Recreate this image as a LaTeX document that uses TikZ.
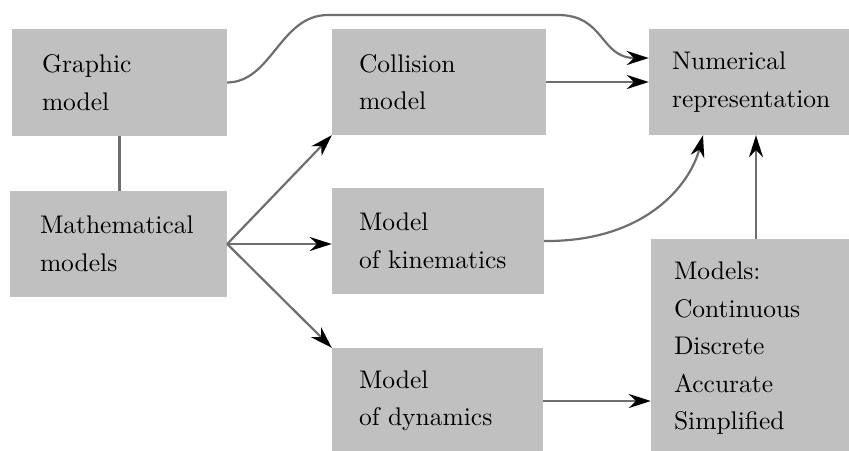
\documentclass[tikz,border=0pt]{standalone}
\usepackage{fontspec}
\setmainfont{lmroman10-regular.otf}
\usetikzlibrary{arrows.meta}
\hyphenpenalty=10000
\exhyphenpenalty=10000
\definecolor{boxgray}{HTML}{C0C0C0}
\definecolor{linegray}{HTML}{6E6E6E}
\tikzset{
  box/.style={fill=boxgray, draw=none, inner xsep=0pt, inner ysep=0pt, align=left,
    font={\fontsize{25.5}{37.5}\selectfont}},
  conn/.style={draw=linegray, line width=2.2pt},
  arr/.style={conn, -{Stealth[color=black, length=22pt, width=14pt, inset=7pt]}}
}
\begin{document}
\begin{tikzpicture}[x=1pt, y=-1pt]
\useasboundingbox (0,0) rectangle (849,450);
\clip (0,0) rectangle (849,450);
\node[box, minimum width=215, minimum height=107, text width=155] (graphic) at (119.5,82.5) {Graphic\\model};
\node[box, minimum width=217, minimum height=106, text width=157] (math) at (118.5,244) {Mathematical\\models};
\node[box, minimum width=214, minimum height=106, text width=160] (coll) at (439,82) {Collision\\model};
\node[box, minimum width=212, minimum height=106, text width=158] (kin) at (438,241) {Model\\of kinematics};
\node[box, minimum width=211, minimum height=106, text width=157] (dyn) at (437.5,401) {Model\\of dynamics};
\node[box, minimum width=200, minimum height=106, text width=154] (num) at (749,82) {Numerical\\representation};
\node[box, minimum width=198, minimum height=219, text width=152] (models) at (750,348.5) {Models:\\Continuous\\Discrete\\Accurate\\Simplified};
\coordinate (top1) at (328,15);
\coordinate (top2) at (558,15);
\draw[conn] (graphic.south) -- (graphic.south |- math.north);
\draw[arr] (math.east) -- (coll.south west);
\draw[arr] (math.east) -- (math.east -| kin.west);
\draw[arr] (math.east) -- (dyn.north west);
\draw[arr] (coll.east) -- (coll.east -| num.west);
\draw[arr] (graphic.east) .. controls (272,82) and (280,15) .. (top1) -- (top2)
  .. controls (605,15) and (600,58) .. ([yshift=24]num.west);
\draw[arr] (kin.east) .. controls (645,242) and (690,185) .. ([xshift=-46]num.south);
\draw[arr] (dyn.east) -- (dyn.east -| models.west);
\draw[arr] ([xshift=6]models.north) -- ([xshift=6]models.north |- num.south);
\end{tikzpicture}
\end{document}
